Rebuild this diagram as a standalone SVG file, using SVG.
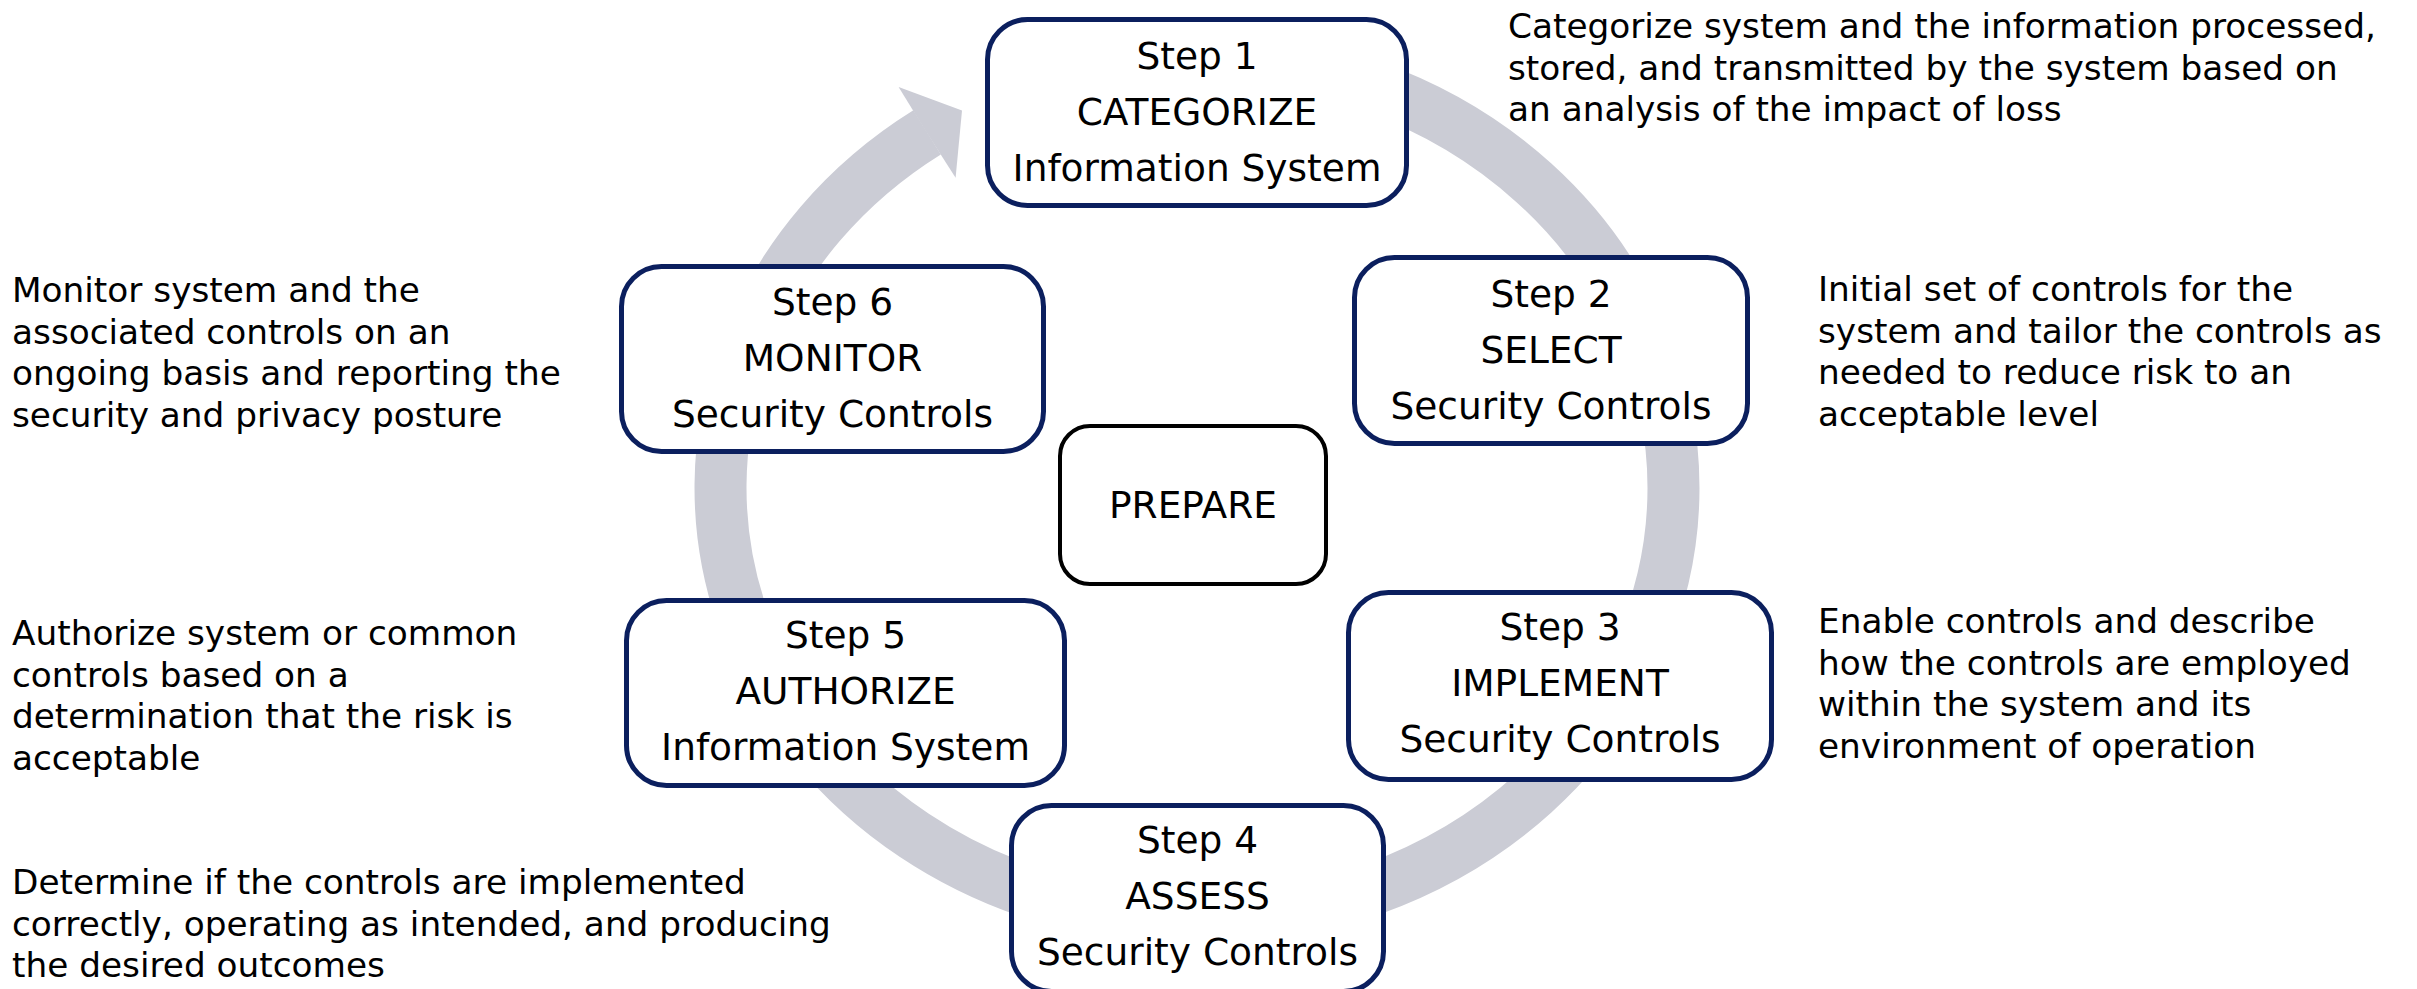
<svg xmlns="http://www.w3.org/2000/svg" width="2417" height="989" viewBox="0 0 2417 989">
  <style>
    .step { fill: #ffffff; stroke: #0b1f5e; stroke-width: 5; }
    .prep { fill: #ffffff; stroke: #000000; stroke-width: 4; }
    .lbl { font-family: "DejaVu Sans", Verdana, sans-serif; font-size: 37.5px; fill: #000000; text-anchor: middle; }
    .desc { font-family: "DejaVu Sans", Verdana, sans-serif; font-size: 34.3px; fill: #000000; }
    .ring { fill: none; stroke: #cbccd5; stroke-width: 52; }
    .head { fill: #cbccd5; }
  </style>

  <rect width="2417" height="989" fill="#ffffff"/>

  <!-- cycle arrow: elliptical band running clockwise, head pointing into step 1 -->
  <g id="connectors">
    <path class="ring" d="M 1197 56.5 A 476.5 431.5 0 1 1 1197 919.5 A 476.5 431.5 0 0 1 927.1 132.4"/>
    <polygon class="head" points="898.6,87.1 962,110.6 955.6,177.7 926,131.5"/>
  </g>

  <!-- step nodes -->
  <g id="step1">
    <rect class="step" x="987.5" y="19.5" width="419" height="186" rx="40"/>
    <text class="lbl" x="1197" y="69">Step 1</text>
    <text class="lbl" x="1197" y="125">CATEGORIZE</text>
    <text class="lbl" x="1197" y="181">Information System</text>
  </g>

  <g id="step2">
    <rect class="step" x="1354.5" y="257.5" width="393" height="186" rx="40"/>
    <text class="lbl" x="1551" y="307">Step 2</text>
    <text class="lbl" x="1551" y="363">SELECT</text>
    <text class="lbl" x="1551" y="419">Security Controls</text>
  </g>

  <g id="step3">
    <rect class="step" x="1348.5" y="592.5" width="423" height="187" rx="40"/>
    <text class="lbl" x="1560" y="640">Step 3</text>
    <text class="lbl" x="1560" y="696">IMPLEMENT</text>
    <text class="lbl" x="1560" y="752">Security Controls</text>
  </g>

  <g id="step4">
    <rect class="step" x="1011.5" y="805.5" width="372" height="186" rx="40"/>
    <text class="lbl" x="1197.5" y="853">Step 4</text>
    <text class="lbl" x="1197.5" y="909">ASSESS</text>
    <text class="lbl" x="1197.5" y="965">Security Controls</text>
  </g>

  <g id="step5">
    <rect class="step" x="626.5" y="600.5" width="438" height="185" rx="40"/>
    <text class="lbl" x="845.5" y="648">Step 5</text>
    <text class="lbl" x="845.5" y="704">AUTHORIZE</text>
    <text class="lbl" x="845.5" y="760">Information System</text>
  </g>

  <g id="step6">
    <rect class="step" x="621.5" y="266.5" width="422" height="185" rx="40"/>
    <text class="lbl" x="832.5" y="315">Step 6</text>
    <text class="lbl" x="832.5" y="371">MONITOR</text>
    <text class="lbl" x="832.5" y="427">Security Controls</text>
  </g>

  <g id="prepare">
    <rect class="prep" x="1060" y="426" width="266" height="158" rx="30"/>
    <text class="lbl" x="1193" y="518">PREPARE</text>
  </g>

  <!-- step descriptions -->
  <g id="desc1">
    <text class="desc" x="1508" y="38">Categorize system and the information processed,</text>
    <text class="desc" x="1508" y="79.5">stored, and transmitted by the system based on</text>
    <text class="desc" x="1508" y="121">an analysis of the impact of loss</text>
  </g>

  <g id="desc2">
    <text class="desc" x="1818" y="301">Initial set of controls for the</text>
    <text class="desc" x="1818" y="342.5">system and tailor the controls as</text>
    <text class="desc" x="1818" y="384">needed to reduce risk to an</text>
    <text class="desc" x="1818" y="425.5">acceptable level</text>
  </g>

  <g id="desc3">
    <text class="desc" x="1818" y="633">Enable controls and describe</text>
    <text class="desc" x="1818" y="674.5">how the controls are employed</text>
    <text class="desc" x="1818" y="716">within the system and its</text>
    <text class="desc" x="1818" y="757.5">environment of operation</text>
  </g>

  <g id="desc4">
    <text class="desc" x="12" y="894">Determine if the controls are implemented</text>
    <text class="desc" x="12" y="935.5">correctly, operating as intended, and producing</text>
    <text class="desc" x="12" y="977">the desired outcomes</text>
  </g>

  <g id="desc5">
    <text class="desc" x="12" y="645">Authorize system or common</text>
    <text class="desc" x="12" y="686.5">controls based on a</text>
    <text class="desc" x="12" y="728">determination that the risk is</text>
    <text class="desc" x="12" y="769.5">acceptable</text>
  </g>

  <g id="desc6">
    <text class="desc" x="12" y="302">Monitor system and the</text>
    <text class="desc" x="12" y="343.5">associated controls on an</text>
    <text class="desc" x="12" y="385">ongoing basis and reporting the</text>
    <text class="desc" x="12" y="426.5">security and privacy posture</text>
  </g>
</svg>
